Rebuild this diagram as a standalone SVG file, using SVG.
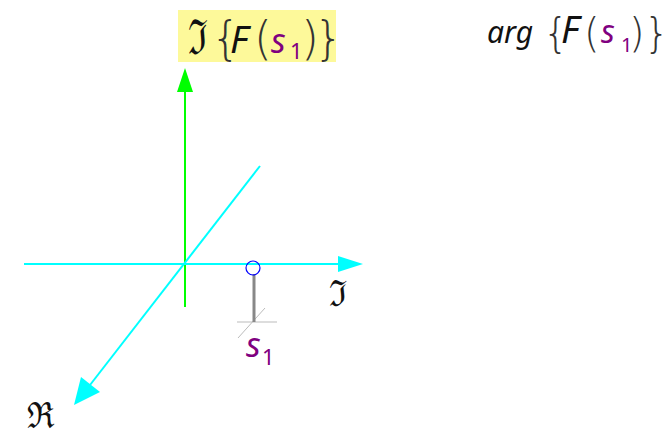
<svg xmlns="http://www.w3.org/2000/svg" width="670" height="436" viewBox="0 0 670 436">
<style>
.m{font-family:"Noto Sans","Open Sans",sans-serif;font-style:italic;fill:#111}
.b{font-family:"DejaVu Sans ExtraLight","DejaVu Sans",sans-serif;font-weight:200;fill:#333}
.p{fill:#800080}
.sub{font-family:"Noto Sans",sans-serif;fill:#800080;font-style:normal}
.fr{font-family:"DejaVu Serif",serif;fill:#111}
.ax{stroke:#00ffff;stroke-width:2;fill:none}
</style>
<g id="title-im">
<rect x="178" y="10" width="158" height="52" fill="#fdf99a"/>
<text class="fr" transform="translate(188,54) scale(0.8,1.1)" font-size="44">ℑ</text>
<text class="b" x="211" y="54" font-size="46">{</text>
<text class="m" x="230" y="53" font-size="38">F</text>
<text class="b" x="254" y="54" font-size="46">(</text>
<text class="m p" x="271" y="53" font-size="34">s</text>
<text class="sub" x="290" y="59" font-size="22">1</text>
<text class="b" x="301" y="54" font-size="46">)</text>
<text class="b" x="314" y="54" font-size="46">}</text>
</g>
<g id="title-arg">
<text class="m" x="487" y="43" font-size="30">arg</text>
<text class="b" x="543" y="47" font-size="40">{</text>
<text class="m" x="561" y="43" font-size="38">F</text>
<text class="b" x="584" y="47" font-size="40">(</text>
<text class="m p" x="601" y="43" font-size="32">s</text>
<text class="sub" x="621" y="52" font-size="20">1</text>
<text class="b" x="629" y="47" font-size="40">)</text>
<text class="b" x="644" y="47" font-size="40">}</text>
</g>
<g id="connectors">
<line x1="185" y1="307" x2="185" y2="92" stroke="#00ff00" stroke-width="2"/>
<path d="M185,68 L193,92 L177,92 z" fill="#00ff00"/>
<line class="ax" x1="24" y1="264" x2="340" y2="264"/>
<path d="M363,264 L338,256 L338,272 z" fill="#00ffff"/>
<line class="ax" x1="260" y1="166" x2="90" y2="385"/>
<path d="M74,405 L81,377 L100,392 z" fill="#00ffff"/>
</g>
<g id="pole">
<line x1="237" y1="322" x2="277" y2="322" stroke="#bbbbbb" stroke-width="1"/>
<line x1="238" y1="338" x2="265" y2="308" stroke="#bbbbbb" stroke-width="1"/>
<line x1="254" y1="274" x2="254" y2="322" stroke="#888888" stroke-width="3"/>
<circle cx="253" cy="268" r="7" fill="none" stroke="#0000ff" stroke-width="1.2"/>
<text class="m p" x="246" y="357" font-size="34">s</text>
<text class="sub" x="262" y="365" font-size="22">1</text>
</g>
<g id="labels">
<text class="fr" transform="translate(329,306) scale(0.9,1)" font-size="36">ℑ</text>
<text class="fr" transform="translate(27,428) scale(0.9,1)" font-size="36">ℜ</text>
</g>
</svg>
